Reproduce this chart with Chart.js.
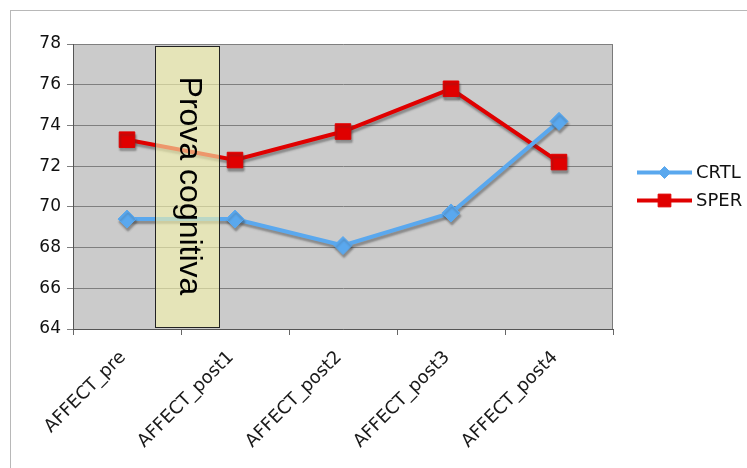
<!DOCTYPE html>
<html>
<head>
<meta charset="utf-8">
<script src="https://cdn.jsdelivr.net/npm/chart.js@4.4.0/dist/chart.umd.min.js"></script>
<style>
  html, body { margin: 0; padding: 0; background: #fff; overflow: hidden; }
  #frame { position: absolute; left: 10px; top: 10px; width: 760px; height: 480px; border: 1px solid #b8b8b8; }
  #wrap { position: absolute; left: 0; top: 0; width: 747px; height: 468px; }
</style>
</head>
<body>
<div id="frame"></div>
<div id="wrap"><canvas id="chart" width="747" height="468"></canvas></div>
<script>
var categories = ['AFFECT_pre', 'AFFECT_post1', 'AFFECT_post2', 'AFFECT_post3', 'AFFECT_post4'];
var crtlValues = [69.4, 69.4, 68.1, 69.7, 74.2];
var sperValues = [73.3, 72.3, 73.7, 75.8, 72.2];
var yTicks = [64, 66, 68, 70, 72, 74, 76, 78];

// shaded "Prova cognitiva" band, in data units (category index / y value)
var bandText = 'Prova cognitiva';
var bandFrom = 0.26, bandTo = 0.85;
var bandLow = 64.1, bandHigh = 77.9;

var blue = '#5aa8ee';
var red = '#e00000';

var plotBackground = {
    id: 'plotBackground',
    beforeDraw: function (chart) {
        var ctx = chart.ctx, a = chart.chartArea;
        ctx.save();
        ctx.fillStyle = '#cbcbcb';
        ctx.fillRect(a.left, a.top, a.right - a.left, a.bottom - a.top);
        ctx.strokeStyle = '#7a7a7a';
        ctx.lineWidth = 1;
        ctx.beginPath();
        ctx.moveTo(a.right - 0.5, a.top);
        ctx.lineTo(a.right - 0.5, a.bottom);
        ctx.stroke();
        ctx.restore();
    }
};

var lineShadow = {
    id: 'lineShadow',
    beforeDatasetsDraw: function (chart) {
        var ctx = chart.ctx;
        ctx.save();
        ctx.shadowColor = 'rgba(60, 60, 60, 0.45)';
        ctx.shadowBlur = 2;
        ctx.shadowOffsetX = 1;
        ctx.shadowOffsetY = 3;
    },
    afterDatasetsDraw: function (chart) {
        chart.ctx.restore();
    }
};

var band = {
    id: 'band',
    afterDatasetsDraw: function (chart) {
        var ctx = chart.ctx, x = chart.scales.x, y = chart.scales.y;
        var x0 = Math.round(x.getPixelForValue(bandFrom)) + 0.5;
        var x1 = Math.round(x.getPixelForValue(bandTo)) + 0.5;
        var y0 = Math.round(y.getPixelForValue(bandHigh)) + 0.5;
        var y1 = Math.round(y.getPixelForValue(bandLow)) + 0.5;
        ctx.save();
        ctx.fillStyle = 'rgba(246, 243, 172, 0.62)';
        ctx.fillRect(x0, y0, x1 - x0, y1 - y0);
        ctx.strokeStyle = '#222';
        ctx.lineWidth = 1;
        ctx.strokeRect(x0, y0, x1 - x0, y1 - y0);
        ctx.translate((x0 + x1) / 2 + 1, (y0 + y1) / 2 - 1);
        ctx.rotate(Math.PI / 2);
        ctx.fillStyle = '#000';
        ctx.font = '32px "Liberation Sans", Arial, sans-serif';
        ctx.textAlign = 'center';
        ctx.textBaseline = 'middle';
        ctx.fillText(bandText, 0, 0);
        ctx.restore();
    }
};

var sideLegend = {
    id: 'sideLegend',
    afterDraw: function (chart) {
        var ctx = chart.ctx, a = chart.chartArea;
        var x0 = a.right + 24, x1 = a.right + 79;
        var yMid = (a.top + a.bottom) / 2;
        ctx.save();
        chart.data.datasets.forEach(function (ds, i) {
            var yy = yMid - 14 + i * 28;
            ctx.strokeStyle = ds.borderColor;
            ctx.lineWidth = 4;
            ctx.beginPath();
            ctx.moveTo(x0, yy);
            ctx.lineTo(x1, yy);
            ctx.stroke();
            ctx.fillStyle = ds.backgroundColor;
            ctx.strokeStyle = ds.borderColor;
            ctx.lineWidth = 1;
            Chart.helpers.drawPoint(ctx, {
                pointStyle: ds.pointStyle,
                radius: ds.pointStyle === 'rect' ? 9 : 6,
                borderWidth: 1,
                rotation: 0
            }, (x0 + x1) / 2, yy);
            ctx.fillStyle = '#111';
            ctx.font = '18px "DejaVu Sans", Verdana, sans-serif';
            ctx.textAlign = 'left';
            ctx.textBaseline = 'middle';
            ctx.fillText(ds.label, x1 + 4, yy + 1);
        });
        ctx.restore();
    }
};

new Chart(document.getElementById('chart'), {
    type: 'line',
    data: {
        labels: categories,
        datasets: [
            {
                label: 'CRTL',
                data: crtlValues,
                borderColor: blue,
                backgroundColor: blue,
                borderWidth: 4,
                pointStyle: 'rectRot',
                pointRadius: 9,
                pointBorderWidth: 1,
                tension: 0
            },
            {
                label: 'SPER',
                data: sperValues,
                borderColor: red,
                backgroundColor: red,
                borderWidth: 4,
                pointStyle: 'rect',
                pointRadius: 11,
                pointBorderWidth: 1,
                tension: 0
            }
        ]
    },
    options: {
        responsive: false,
        animation: false,
        layout: { padding: { top: 44, right: 134, bottom: 0, left: 0 } },
        plugins: {
            legend: { display: false },
            tooltip: { enabled: false }
        },
        scales: {
            x: {
                offset: true,
                grid: { offset: true, drawOnChartArea: false, tickLength: 6, color: '#666' },
                border: { color: '#555', width: 1 },
                ticks: {
                    minRotation: 45,
                    maxRotation: 45,
                    padding: 12,
                    labelOffset: -4,
                    color: '#1a1a1a',
                    font: { family: '"DejaVu Sans", Verdana, sans-serif', size: 18 }
                },
                afterFit: function (scale) { scale.height = 139; }
            },
            y: {
                min: 64,
                max: 78,
                afterBuildTicks: function (scale) {
                    scale.ticks = yTicks.map(function (v) { return { value: v }; });
                },
                grid: { color: '#7f7f7f', tickLength: 6 },
                border: { color: '#555', width: 1 },
                ticks: {
                    padding: 6,
                    color: '#111',
                    font: { family: '"DejaVu Sans", Verdana, sans-serif', size: 17 }
                },
                afterFit: function (scale) { scale.width = 73; }
            }
        }
    },
    plugins: [plotBackground, lineShadow, band, sideLegend]
});
</script>
</body>
</html>
